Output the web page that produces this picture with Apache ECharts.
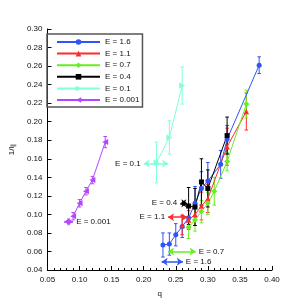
<!DOCTYPE html>
<html><head><meta charset="utf-8">
<script src="https://cdn.jsdelivr.net/npm/echarts@6/dist/echarts.min.js"></script>
<style>html,body{margin:0;padding:0;background:#fff}#c{width:285px;height:303px}</style>
</head><body><div id="c"></div>
<script>
// ---- data ----
const names = ['E = 1.6','E = 1.1','E = 0.7','E = 0.4','E = 0.1','E = 0.001'];
const q16 = [0.23,0.24,0.25,0.26,0.27,0.28,0.29,0.30,0.32,0.33,0.38];
const v16 = [0.067,0.068,0.078,0.087,0.096,0.112,0.128,0.136,0.154,0.181,0.261];
const e16 = [0.013,0.012,0.012,0.012,0.012,0.018,0.018,0.02,0.015,0.015,0.009];
const q11 = [0.26,0.27,0.28,0.29,0.30,0.33,0.36];
const v11 = [0.088,0.094,0.100,0.109,0.117,0.173,0.211];
const e11 = [0.010,0.010,0.012,0.015,0.015,0.020,0.020];
const q07 = [0.27,0.28,0.29,0.30,0.31,0.33,0.36];
const v07 = [0.086,0.094,0.103,0.112,0.125,0.157,0.219];
const e07 = [0.012,0.012,0.012,0.012,0.015,0.010,0.015];
const q04 = [0.27,0.28,0.29,0.30,0.33];
const v04 = [0.109,0.108,0.135,0.128,0.185];
const e04 = [0.020,0.020,0.025,0.020,0.020];
const q01 = [0.22,0.24,0.26];
const v01 = [0.156,0.183,0.239];
const e01 = [0.022,0.018,0.020];
const q0001 = [0.09,0.10,0.11,0.12,0.14];
const v0001 = [0.098,0.112,0.125,0.137,0.178];
const e0001 = [0.004,0.004,0.004,0.004,0.006];
// annotation arrows: [qStart, qEnd, y]
const arr16 = [0.228,0.261,0.049];
const arr11 = [0.238,0.268,0.097];
const arr07 = [0.238,0.281,0.060];
const arr04 = [0.257,0.268,0.112];
const arr01 = [0.200,0.238,0.155];
const arr0001 = [0.076,0.090,0.092];
const labelSide = ['end','start','end','start','start','end'];
const xTicks = {min:0.05,max:0.40,step:0.05};
const yTicks = {min:0.04,max:0.30,step:0.02};

const colors = ['#2f55f5','#ff2a2a','#66ee22','#000000','#80ffd8','#b347ff'];
const symbols = ['circle','triangle','diamond','rect','path://M0,0 L10,5 L0,10 Z','path://M10,0 L0,5 L10,10 Z'];
const sizes = [5,5.5,6,5,6,6];
const sets = [[q16,v16,e16,arr16],[q11,v11,e11,arr11],[q07,v07,e07,arr07],[q04,v04,e04,arr04],[q01,v01,e01,arr01],[q0001,v0001,e0001,arr0001]];

const series = [];
sets.forEach((s,i)=>{
  const [qs,vs,es,ar] = s;
  series.push({
    type:'line', name:names[i], z:3,
    data: qs.map((q,k)=>[q, vs[k]]),
    symbol: symbols[i], symbolSize: sizes[i],
    showSymbol:true,
    itemStyle:{color:colors[i]},
    lineStyle:{color:colors[i], width:1},
    markLine:{
      silent:true, animation:false,
      symbol:['arrow','arrow'], symbolSize:[6,6],
      lineStyle:{color:colors[i], width:1.5, type:'solid'},
      label:{show:true, position:labelSide[i], formatter:names[i], color:'#111', fontSize:8, fontFamily:'Liberation Sans', distance:3},
      data:[[{coord:[ar[0],ar[2]]},{coord:[ar[1],ar[2]]}]]
    }
  });
  series.push({
    type:'custom', name:names[i]+' err', silent:true, z:2,
    data: qs.map((q,k)=>[q, vs[k]-es[k], vs[k]+es[k]]),
    renderItem:(params, api)=>{
      const lo = api.coord([api.value(0), api.value(1)]);
      const hi = api.coord([api.value(0), api.value(2)]);
      const c = 1.8;
      const st = {stroke:colors[i], lineWidth:1};
      return {type:'group', children:[
        {type:'line', shape:{x1:lo[0],y1:lo[1],x2:hi[0],y2:hi[1]}, style:st},
        {type:'line', shape:{x1:lo[0]-c,y1:lo[1],x2:lo[0]+c,y2:lo[1]}, style:st},
        {type:'line', shape:{x1:hi[0]-c,y1:hi[1],x2:hi[0]+c,y2:hi[1]}, style:st}
      ]};
    }
  });
});

const chart = echarts.init(document.getElementById('c'), null, {renderer:'canvas'});
chart.setOption({
  animation:false,
  backgroundColor:'#fff',
  textStyle:{fontFamily:'Liberation Sans'},
  grid:{left:41, right:13, top:29, bottom:31},
  legend:{
    data: names, orient:'vertical', left:47, top:34,
    itemWidth:43, itemHeight:7, itemGap:3.6,
    borderColor:'#555', borderWidth:1.5, borderRadius:0,
    padding:[4,3,3,9],
    textStyle:{fontSize:8, color:'#111'}
  },
  xAxis:{
    type:'value', min:xTicks.min, max:xTicks.max, interval:xTicks.step,
    name:'q', nameLocation:'middle', nameGap:20,
    nameTextStyle:{fontSize:8, color:'#111'},
    axisLine:{lineStyle:{color:'#000', width:1}},
    axisTick:{inside:true, length:4, lineStyle:{color:'#000'}},
    minorTick:{show:true, splitNumber:5, length:2, lineStyle:{color:'#000'}},
    axisLabel:{fontSize:8, color:'#111', margin:6, formatter:v=>v.toFixed(2)},
    splitLine:{show:false}
  },
  yAxis:{
    type:'value', min:yTicks.min, max:yTicks.max, interval:yTicks.step,
    name:'1/l{s|∥}', nameLocation:'middle', nameGap:28, nameRotate:90,
    nameTextStyle:{fontSize:8, color:'#111', rich:{s:{fontSize:6, verticalAlign:'bottom'}}},
    axisLine:{show:true, lineStyle:{color:'#000', width:1}},
    axisTick:{inside:true, length:4, lineStyle:{color:'#000'}},
    axisLabel:{fontSize:8, color:'#111', margin:5, formatter:v=>v.toFixed(2)},
    splitLine:{show:false}
  },
  series: series
});
</script></body></html>
